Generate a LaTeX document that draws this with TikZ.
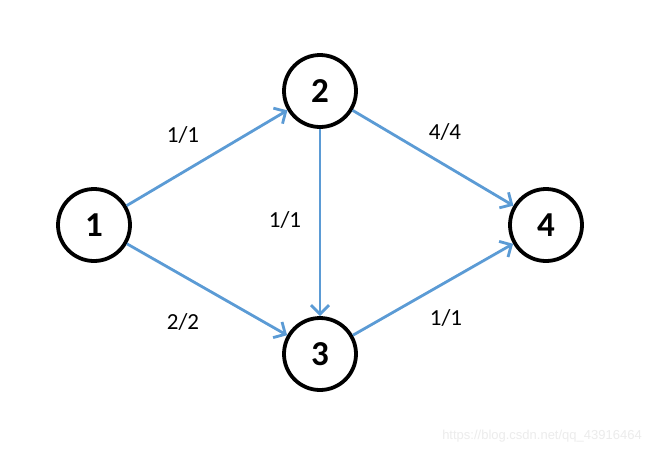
\documentclass[tikz,border=0pt]{standalone}
\usepackage{fontspec}
\setmainfont{Carlito}
\newfontfamily\wmfont{Liberation Sans}
\usetikzlibrary{arrows.meta}
\definecolor{flowblue}{RGB}{91,155,213}
\definecolor{wmgray}{RGB}{236,236,236}
\tikzset{
  vertex/.style={circle, draw=black, line width=3.8pt, minimum size=72pt, inner sep=0pt, font=\bfseries\fontsize{35}{35}\selectfont},
  flow/.style={draw=flowblue, line width=2.8pt, -{Straight Barb[length=9pt,width=18pt,line width=2.8pt]}},
  lbl/.style={font=\fontsize{23}{23}\selectfont, inner sep=0pt}
}
\begin{document}
\begin{tikzpicture}[x=1pt,y=-1pt]
\useasboundingbox[fill=white] (0,0) rectangle (650,451);
\node[vertex] (n1) at (94,225) {1};
\node[vertex] (n2) at (320,91) {2};
\node[vertex] (n3) at (320,354) {3};
\node[vertex] (n4) at (546,225) {4};
\draw[flow] (n1) -- (n2);
\draw[flow] (n1) -- (n3);
\draw[flow] (n2) -- (n3);
\draw[flow] (n2) -- (n4);
\draw[flow] (n3) -- (n4);
\node[lbl] (l12) at (183,135) {1/1};
\node[lbl] (l13) at (183,322) {2/2};
\node[lbl] (l23) at (285,220) {1/1};
\node[lbl] (l24) at (445,132) {4/4};
\node[lbl] (l34) at (446,318) {1/1};
\node[font=\wmfont\fontsize{13}{13}\selectfont, text=wmgray, inner sep=0pt] (wm) at (542,436) {https://blog.csdn.net/qq\_43916464};
\end{tikzpicture}
\end{document}
